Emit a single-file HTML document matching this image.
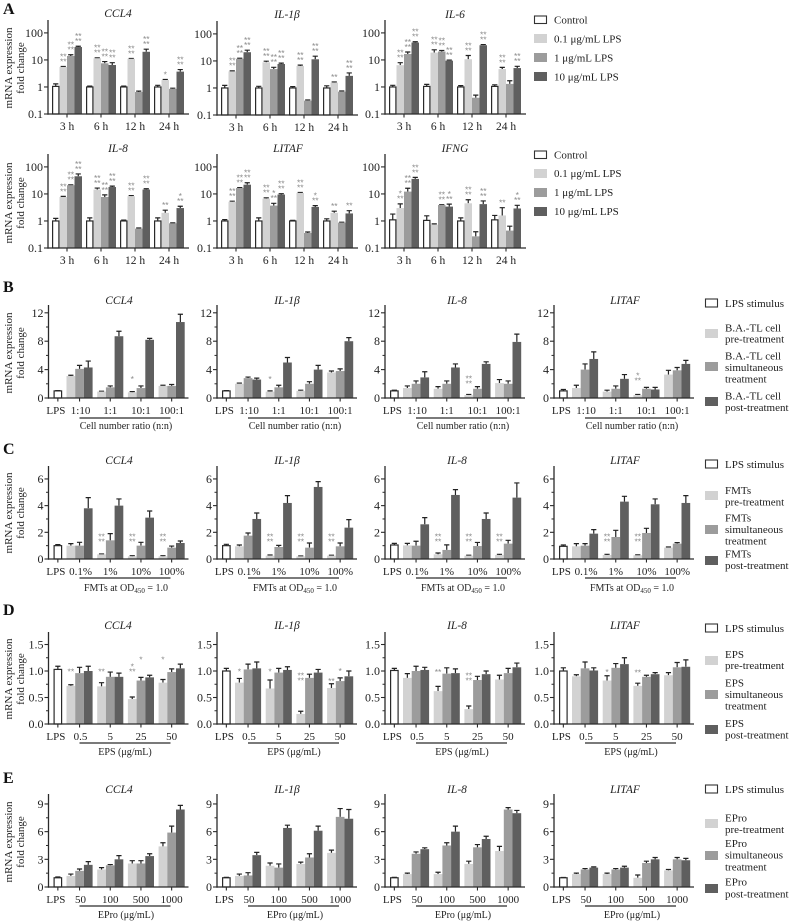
<!DOCTYPE html>
<html lang="en">
<head>
<meta charset="utf-8">
<title>mRNA expression fold change panels</title>
<style>
html,body{margin:0;padding:0;background:#fff;width:791px;height:924px;overflow:hidden}
svg{display:block}
text{font-family:"Liberation Serif",serif;fill:#222}
.t{font-size:11.5px;font-style:italic;text-anchor:middle}
.l{font-size:11px}
.p{font-size:16px;font-weight:bold;fill:#111}
.xt{font-size:10px;text-anchor:middle}
.yt{font-size:11px;text-anchor:middle}
</style>
</head>
<body>
<svg id="figure" width="791" height="924" viewBox="0 0 791 924" xmlns="http://www.w3.org/2000/svg">
<rect x="0" y="0" width="791" height="924" fill="#fff"/>

<text class="p" x="3" y="14">A</text>
<text class="p" x="3" y="292">B</text>
<text class="p" x="3" y="454">C</text>
<text class="p" x="3" y="615">D</text>
<text class="p" x="3" y="783">E</text>

<text class="t" x="118" y="17">CCL4</text>
<text class="t" x="287" y="18">IL-1β</text>
<text class="t" x="455" y="18">IL-6</text>
<text class="t" x="118" y="152">IL-8</text>
<text class="t" x="288" y="152">LITAF</text>
<text class="t" x="455" y="152">IFNG</text>

<text class="t" x="119" y="304">CCL4</text>
<text class="t" x="287" y="304">IL-1β</text>
<text class="t" x="457" y="304">IL-8</text>
<text class="t" x="625" y="304">LITAF</text>

<text class="t" x="119" y="464">CCL4</text>
<text class="t" x="287" y="464">IL-1β</text>
<text class="t" x="457" y="464">IL-8</text>
<text class="t" x="625" y="464">LITAF</text>

<text class="t" x="118" y="629">CCL4</text>
<text class="t" x="287" y="629">IL-1β</text>
<text class="t" x="457" y="629">IL-8</text>
<text class="t" x="625" y="629">LITAF</text>

<text class="t" x="119" y="793">CCL4</text>
<text class="t" x="287" y="793">IL-1β</text>
<text class="t" x="457" y="793">IL-8</text>
<text class="t" x="625" y="793">LITAF</text>

<g>
<text class="yt" transform="translate(12,68) rotate(-90)">mRNA expression</text>
<text class="yt" transform="translate(24,68) rotate(-90)">fold change</text>
</g>
<g>
<text class="yt" transform="translate(12,203) rotate(-90)">mRNA expression</text>
<text class="yt" transform="translate(24,203) rotate(-90)">fold change</text>
</g>
<g>
<text class="yt" transform="translate(12,353) rotate(-90)">mRNA expression</text>
<text class="yt" transform="translate(24,353) rotate(-90)">fold change</text>
</g>
<g>
<text class="yt" transform="translate(12,513) rotate(-90)">mRNA expression</text>
<text class="yt" transform="translate(24,513) rotate(-90)">fold change</text>
</g>
<g>
<text class="yt" transform="translate(12,679) rotate(-90)">mRNA expression</text>
<text class="yt" transform="translate(24,679) rotate(-90)">fold change</text>
</g>
<g>
<text class="yt" transform="translate(12,842) rotate(-90)">mRNA expression</text>
<text class="yt" transform="translate(24,842) rotate(-90)">fold change</text>
</g>

<text class="xt" x="126" y="429">Cell number ratio (n:n)</text>
<text class="xt" x="295" y="429">Cell number ratio (n:n)</text>
<text class="xt" x="463" y="429">Cell number ratio (n:n)</text>
<text class="xt" x="632" y="429">Cell number ratio (n:n)</text>

<text class="xt" x="126" y="591">FMTs at OD<tspan dy="2" font-size="7">450</tspan><tspan dy="-2"> = 1.0</tspan></text>
<text class="xt" x="295" y="591">FMTs at OD<tspan dy="2" font-size="7">450</tspan><tspan dy="-2"> = 1.0</tspan></text>
<text class="xt" x="463" y="591">FMTs at OD<tspan dy="2" font-size="7">450</tspan><tspan dy="-2"> = 1.0</tspan></text>
<text class="xt" x="632" y="591">FMTs at OD<tspan dy="2" font-size="7">450</tspan><tspan dy="-2"> = 1.0</tspan></text>

<text class="xt" x="125" y="755">EPS (μg/mL)</text>
<text class="xt" x="294" y="755">EPS (μg/mL)</text>
<text class="xt" x="462" y="755">EPS (μg/mL)</text>
<text class="xt" x="631" y="755">EPS (μg/mL)</text>

<text class="xt" x="126" y="918">EPro (μg/mL)</text>
<text class="xt" x="295" y="918">EPro (μg/mL)</text>
<text class="xt" x="463" y="918">EPro (μg/mL)</text>
<text class="xt" x="632" y="918">EPro (μg/mL)</text>

<g>
<rect x="534.5" y="16" width="12" height="7.5" fill="#fff" stroke="#333" stroke-width="1.1"/><text class="l" x="554" y="23.5">Control</text>
<rect x="534" y="34" width="13" height="9" fill="#d2d2d2"/><text class="l" x="554" y="42.5">0.1 μg/mL LPS</text>
<rect x="534" y="53" width="13" height="9" fill="#9c9c9c"/><text class="l" x="554" y="61.5">1 μg/mL LPS</text>
<rect x="534" y="72" width="13" height="9" fill="#5f5f5f"/><text class="l" x="554" y="80.5">10 μg/mL LPS</text>
</g>
<g>
<rect x="534.5" y="151" width="12" height="7.5" fill="#fff" stroke="#333" stroke-width="1.1"/><text class="l" x="554" y="158.5">Control</text>
<rect x="534" y="169" width="13" height="9" fill="#d2d2d2"/><text class="l" x="554" y="177">0.1 μg/mL LPS</text>
<rect x="534" y="188" width="13" height="9" fill="#9c9c9c"/><text class="l" x="554" y="196">1 μg/mL LPS</text>
<rect x="534" y="207" width="13" height="9" fill="#5f5f5f"/><text class="l" x="554" y="215">10 μg/mL LPS</text>
</g>
<g>
<rect x="705.5" y="299" width="12" height="8" fill="#fff" stroke="#333" stroke-width="1.1"/><text class="l" x="725" y="307">LPS stimulus</text>
<rect x="705" y="329" width="13" height="9" fill="#d2d2d2"/><text class="l" x="725" y="331.5">B.A.-TL cell</text><text class="l" x="725" y="342.5">pre-treatment</text>
<rect x="705" y="362" width="13" height="9" fill="#9c9c9c"/><text class="l" x="725" y="359.5">B.A.-TL cell</text><text class="l" x="725" y="371">simultaneous</text><text class="l" x="725" y="382.5">treatment</text>
<rect x="705" y="397" width="13" height="9" fill="#5f5f5f"/><text class="l" x="725" y="399.5">B.A.-TL cell</text><text class="l" x="725" y="411">post-treatment</text>
</g>
<g>
<rect x="705.5" y="460" width="12" height="8" fill="#fff" stroke="#333" stroke-width="1.1"/><text class="l" x="725" y="468">LPS stimulus</text>
<rect x="705" y="491" width="13" height="9" fill="#d2d2d2"/><text class="l" x="725" y="494">FMTs</text><text class="l" x="725" y="505.5">pre-treatment</text>
<rect x="705" y="525" width="13" height="9" fill="#9c9c9c"/><text class="l" x="725" y="521.5">FMTs</text><text class="l" x="725" y="533">simultaneous</text><text class="l" x="725" y="544.5">treatment</text>
<rect x="705" y="556" width="13" height="9" fill="#5f5f5f"/><text class="l" x="725" y="557.5">FMTs</text><text class="l" x="725" y="569">post-treatment</text>
</g>
<g>
<rect x="705.5" y="624" width="12" height="8" fill="#fff" stroke="#333" stroke-width="1.1"/><text class="l" x="725" y="632">LPS stimulus</text>
<rect x="705" y="656" width="13" height="9" fill="#d2d2d2"/><text class="l" x="725" y="658">EPS</text><text class="l" x="725" y="669">pre-treatment</text>
<rect x="705" y="690" width="13" height="9" fill="#9c9c9c"/><text class="l" x="725" y="686.5">EPS</text><text class="l" x="725" y="698">simultaneous</text><text class="l" x="725" y="709.5">treatment</text>
<rect x="705" y="725" width="13" height="9" fill="#5f5f5f"/><text class="l" x="725" y="727">EPS</text><text class="l" x="725" y="738.5">post-treatment</text>
</g>
<g>
<rect x="705.5" y="785" width="12" height="8" fill="#fff" stroke="#333" stroke-width="1.1"/><text class="l" x="725" y="793">LPS stimulus</text>
<rect x="705" y="819" width="13" height="9" fill="#d2d2d2"/><text class="l" x="725" y="821.5">EPro</text><text class="l" x="725" y="833">pre-treatment</text>
<rect x="705" y="851" width="13" height="9" fill="#9c9c9c"/><text class="l" x="725" y="847">EPro</text><text class="l" x="725" y="858.5">simultaneous</text><text class="l" x="725" y="870.5">treatment</text>
<rect x="705" y="884" width="13" height="9" fill="#5f5f5f"/><text class="l" x="725" y="885.5">EPro</text><text class="l" x="725" y="897.5">post-treatment</text>
</g>
</svg>

<script>
/* ---------- labels ---------- */
const timeLabels = ['3 h', '6 h', '12 h', '24 h'];
const ratioLabels = ['LPS', '1:10', '1:1', '10:1', '100:1'];
const fmtLabels = ['LPS', '0.1%', '1%', '10%', '100%'];
const epsLabels = ['LPS', '0.5', '5', '25', '50'];
const eproLabels = ['LPS', '50', '100', '500', '1000'];
const logTicks = [0.1, 1, 10, 100];
const logTickLabels = ['0.1', '1', '10', '100'];
const bTicks = [0, 4, 8, 12];
const bTickLabels = ['0', '4', '8', '12'];
const bMinor = [2, 6, 10];
const cTicks = [0, 2, 4, 6];
const cTickLabels = ['0', '2', '4', '6'];
const cMinor = [1, 3, 5];
const dTicks = [0, 0.5, 1, 1.5];
const dTickLabels = ['0.0', '0.5', '1.0', '1.5'];
const dMinor = [0.25, 0.75, 1.25];
const eTicks = [0, 3, 6, 9];
const eTickLabels = ['0', '3', '6', '9'];
const eMinor = [1.5, 4.5, 7.5];

/* ---------- panel A values (groups: time; series: control, 0.1, 1, 10 ug/mL) ---------- */
const aCcl4 = [[1.05, 5.5, 14, 30], [1, 11.5, 7.5, 6.5], [1, 11, 0.65, 20], [1, 1.8, 0.85, 3.7]];
const aCcl4Err = [[0.25, 0.2, 1.5, 2], [0.08, 0.5, 1.2, 1.4], [0.08, 0.3, 0.05, 5], [0.15, 0.1, 0.05, 0.7]];
const aCcl4Stars = [[0, 4, 4, 4], [0, 4, 4, 4], [0, 4, 0, 4], [0, 1, 0, 4]];
const aIl1b = [[1, 4.1, 12, 21], [1, 8.9, 5, 7.7], [1, 6.5, 0.34, 11.5], [1, 1.57, 0.73, 2.8]];
const aIl1bErr = [[0.25, 0.2, 0.6, 4], [0.15, 0.9, 0.8, 0.6], [0.12, 0.5, 0.02, 3.5], [0.2, 0.1, 0.04, 0.8]];
const aIl1bStars = [[0, 4, 4, 4], [0, 4, 4, 4], [0, 4, 0, 4], [0, 2, 0, 4]];
const aIl6 = [[1, 6.4, 16.6, 44], [1.05, 18.7, 20.4, 9.4], [1, 10.6, 0.4, 35], [1.05, 4.6, 1.3, 5]];
const aIl6Err = [[0.15, 1.5, 3, 3], [0.2, 5, 2, 0.5], [0.12, 4, 0.1, 2], [0.15, 0.7, 0.4, 0.8]];
const aIl6Stars = [[0, 4, 4, 4], [0, 4, 4, 4], [0, 4, 0, 4], [0, 4, 0, 4]];
const aIl8 = [[1, 7.7, 21, 45], [1, 14.5, 7.7, 18], [1, 8.2, 0.52, 14.5], [1, 2, 0.82, 3]];
const aIl8Err = [[0.25, 0.4, 0.7, 10], [0.3, 2, 1.5, 1.5], [0.08, 0.5, 0.03, 1], [0.3, 0.5, 0.03, 0.5]];
const aIl8Stars = [[0, 4, 4, 4], [0, 4, 4, 4], [0, 4, 0, 4], [0, 2, 0, 3]];
const aLitaf = [[1, 5.1, 16.6, 22], [1, 6.7, 3.7, 9.5], [1, 10.9, 0.36, 3.3], [1, 2, 0.87, 1.9]];
const aLitafErr = [[0.12, 0.3, 0.5, 4], [0.3, 0.5, 0.8, 0.7], [0.05, 0.4, 0.03, 0.4], [0.2, 0.3, 0.03, 0.5]];
const aLitafStars = [[0, 4, 4, 4], [0, 4, 3, 4], [0, 4, 0, 3], [0, 2, 0, 2]];
const aIfng = [[1.1, 3, 12.2, 36], [1.05, 0.73, 3.9, 3.4], [1, 4.5, 0.27, 4.2], [1.1, 1.6, 0.44, 2.9]];
const aIfngErr = [[0.7, 1.3, 4, 5], [0.5, 0.05, 0.1, 0.8], [0.3, 1.6, 0.13, 1.3], [0.5, 1.5, 0.2, 0.9]];
const aIfngStars = [[0, 3, 4, 4], [0, 0, 4, 3], [0, 4, 0, 4], [0, 2, 0, 3]];

/* ---------- panel B values (first group: LPS; then pre, simultaneous, post) ---------- */
const bCcl4 = [[1], [3.1, 4.1, 4.3], [0.9, 1.5, 8.7], [0.8, 1.4, 8.2], [1.7, 1.7, 10.7]];
const bCcl4Err = [[0.05], [0.1, 0.5, 0.9], [0.05, 0.2, 0.7], [0.1, 0.3, 0.2], [0.1, 0.2, 1.1]];
const bIl1b = [[1], [2, 2.8, 2.6], [0.9, 1.5, 5], [1, 2, 4], [3.6, 3.8, 8]];
const bIl1bErr = [[0.05], [0.1, 0.15, 0.2], [0.1, 0.3, 0.7], [0.1, 0.3, 0.6], [0.2, 0.3, 0.5]];
const bIl8 = [[1], [1.4, 2, 2.9], [1.3, 2, 4.3], [0.4, 1.3, 4.8], [2.1, 2, 7.9]];
const bIl8Err = [[0.1], [0.3, 0.4, 0.8], [0.3, 0.4, 0.5], [0.1, 0.3, 0.3], [0.5, 0.4, 1.1]];
const bLitaf = [[1], [1.4, 4, 5.5], [0.9, 1.3, 2.7], [0.4, 1.3, 1.2], [3.3, 3.9, 4.8]];
const bLitafErr = [[0.2], [0.4, 0.8, 1], [0.2, 0.4, 0.6], [0.1, 0.2, 0.3], [0.6, 0.4, 0.5]];
const bCcl4Stars = [[3, 0, 1, 3]];
const bIl1bStars = [[2, 0, 1, 3]];
const bIl8Stars = [[3, 0, 4, 2.4]];
const bLitafStars = [[3, 0, 3, 2.8]];

/* ---------- panel C values ---------- */
const cCcl4 = [[1], [1, 1, 3.8], [0.35, 1.4, 4], [0.2, 1, 3.1], [0.2, 0.85, 1.2]];
const cCcl4Err = [[0.08], [0.15, 0.25, 0.8], [0.03, 0.5, 0.5], [0.05, 0.25, 0.5], [0.05, 0.12, 0.15]];
const cIl1b = [[1], [0.95, 1.75, 3], [0.25, 0.9, 4.2], [0.2, 0.85, 5.4], [0.25, 0.95, 2.35]];
const cIl1bErr = [[0.1], [0.1, 0.2, 0.45], [0.05, 0.12, 0.55], [0.03, 0.35, 0.4], [0.03, 0.25, 0.6]];
const cIl8 = [[1.05], [1.02, 1, 2.6], [0.35, 0.68, 4.8], [0.25, 0.97, 3], [0.3, 1.15, 4.6]];
const cIl8Err = [[0.12], [0.15, 0.33, 0.5], [0.1, 0.38, 0.4], [0.03, 0.27, 0.45], [0.05, 0.25, 1.1]];
const cLitaf = [[0.95], [0.95, 1, 1.9], [0.3, 1.65, 4.3], [0.28, 1.95, 4.1], [0.85, 1.15, 4.2]];
const cLitafErr = [[0.1], [0.2, 0.15, 0.3], [0.05, 0.5, 0.4], [0.03, 0.35, 0.4], [0.05, 0.08, 0.55]];
const cCcl4Stars = [[2, 0, 4, 1.5], [3, 0, 4, 1.5], [4, 0, 4, 1.5]];
const cIl1bStars = [[2, 0, 4, 1.5], [3, 0, 4, 1.5], [4, 0, 4, 1.5]];
const cIl8Stars = [[2, 0, 4, 1.5], [3, 0, 4, 1.5], [4, 0, 4, 1.5]];
const cLitafStars = [[2, 0, 4, 1.5], [3, 0, 4, 1.5]];

/* ---------- panel D values ---------- */
const dCcl4 = [[1.03], [0.72, 0.96, 1], [0.71, 0.89, 0.89], [0.47, 0.82, 0.88], [0.78, 0.98, 1.05]];
const dCcl4Err = [[0.06], [0.02, 0.11, 0.09], [0.07, 0.09, 0.07], [0.04, 0.06, 0.04], [0.06, 0.06, 0.08]];
const dIl1b = [[1], [0.78, 1.03, 1.05], [0.67, 0.97, 1.02], [0.19, 0.87, 0.97], [0.68, 0.81, 0.9]];
const dIl1bErr = [[0.05], [0.08, 0.1, 0.12], [0.16, 0.08, 0.06], [0.05, 0.07, 0.06], [0.08, 0.06, 0.1]];
const dIl8 = [[1.01], [0.87, 1, 1.02], [0.62, 0.95, 0.96], [0.28, 0.83, 0.94], [0.84, 0.96, 1.07]];
const dIl8Err = [[0.04], [0.08, 0.09, 0.05], [0.09, 0.11, 0.08], [0.06, 0.07, 0.06], [0.08, 0.09, 0.08]];
const dLitaf = [[1], [0.9, 1.05, 1.01], [0.82, 1.06, 1.13], [0.72, 0.89, 0.94], [0.92, 1.07, 1.08]];
const dLitafErr = [[0.06], [0.03, 0.12, 0.05], [0.09, 0.08, 0.12], [0.05, 0.03, 0.03], [0.05, 0.09, 0.13]];
const dCcl4Stars = [[1, 0, 2, 1.04], [2, 0, 2, 1.04], [3, 0, 3, 1.04], [3, 1, 1, 1.26], [4, 0, 1, 1.26]];
const dIl1bStars = [[1, 0, 1, 1.04], [2, 0, 1, 1.04], [3, 0, 4, 0.87], [4, 0, 2, 0.86], [4, 1, 1, 1.05]];
const dIl8Stars = [[2, 0, 2, 1.03], [3, 0, 4, 0.87]];
const dLitafStars = [[2, 0, 1, 1.03], [3, 0, 2, 1.02]];

/* ---------- panel E values ---------- */
const eCcl4 = [[1], [1.2, 1.75, 2.4], [1.9, 2.35, 3], [2.55, 2.55, 3.35], [4.4, 5.9, 8.4]];
const eCcl4Err = [[0.08], [0.2, 0.2, 0.35], [0.2, 0.08, 0.4], [0.3, 0.3, 0.25], [0.4, 0.7, 0.45]];
const eIl1b = [[1], [1.2, 1.25, 3.45], [2.3, 2.1, 6.4], [2.5, 3.2, 6.1], [3.7, 7.6, 7.4]];
const eIl1bErr = [[0.05], [0.2, 0.3, 0.3], [0.3, 0.4, 0.3], [0.2, 0.4, 0.5], [0.3, 0.9, 1]];
const eIl8 = [[1], [1.4, 3.6, 4.1], [1.4, 4.5, 6], [2.5, 4.3, 5.2], [3.9, 8.4, 8]];
const eIl8Err = [[0.05], [0.1, 0.2, 0.15], [0.2, 0.3, 0.6], [0.3, 0.3, 0.3], [0.5, 0.2, 0.3]];
const eLitaf = [[1], [1.4, 1.9, 2.1], [1.4, 1.9, 2.1], [1, 2.6, 3], [1.8, 3, 2.9]];
const eLitafErr = [[0.03], [0.1, 0.1, 0.08], [0.1, 0.1, 0.15], [0.3, 0.2, 0.2], [0.1, 0.2, 0.2]];

/* ---------- drawing ---------- */
const NS = 'http://www.w3.org/2000/svg';
const svgRoot = document.getElementById('figure');
const fillsFour = ['#ffffff', '#d2d2d2', '#9c9c9c', '#5f5f5f'];
const fillsThree = ['#d2d2d2', '#9c9c9c', '#5f5f5f'];
const INK = '#2a2a2a';

function node(parent, tag, attrs) {
  const el = document.createElementNS(NS, tag);
  for (const k in attrs) el.setAttribute(k, attrs[k]);
  parent.appendChild(el);
  return el;
}
function linearY(bottom, top, max) {
  return v => bottom - (v / max) * (bottom - top);
}
function logY(bottom, top, min, max) {
  const span = Math.log10(max) - Math.log10(min);
  return v => bottom - (Math.log10(v) - Math.log10(min)) / span * (bottom - top);
}
function drawStars(g, x, y, count, name) {
  const rows = count === 4 ? ['**', '**'] : count === 3 ? ['**', '*'] : count === 2 ? ['**'] : ['*'];
  rows.forEach((r, i) => {
    const el = node(g, 'text', {
      x: x, y: y + 5.4 - i * 5, 'text-anchor': 'middle',
      style: 'font-family:"Liberation Sans",sans-serif;font-size:8.5px;fill:#8a8a8a'
    });
    el.textContent = r;
    
    
  });
}
function drawAxes(g, c, y) {
  const yAxis = node(g, 'line', { x1: c.x, x2: c.x, y1: c.top, y2: c.bottom + 0.7, stroke: INK, 'stroke-width': 1.3 });
  
  
  const xAxis = node(g, 'line', { x1: c.x - 0.6, x2: c.x + c.width, y1: c.bottom, y2: c.bottom, stroke: INK, 'stroke-width': 1.3 });
  
  
  c.ticks.forEach((t, i) => {
    const py = y(t);
    const tick = node(g, 'line', { x1: c.x - 4, x2: c.x, y1: py, y2: py, stroke: INK, 'stroke-width': 1.1 });
    
    
    const lab = node(g, 'text', { x: c.x - 5, y: py + 4, 'text-anchor': 'end', 'font-size': 12 });
    lab.textContent = c.tickLabels[i];
    
    
  });
  (c.minor || []).forEach(t => {
    const py = y(t);
    const tick = node(g, 'line', { x1: c.x - 2.5, x2: c.x, y1: py, y2: py, stroke: INK, 'stroke-width': 1 });
    
    
  });
}
function drawBar(g, x, w, v, e, base, y, fill, isOutline, name) {
  const top = y(v), errTop = y(v + e), cx = x + w / 2;
  const whisker = node(g, 'path', {
    d: 'M' + cx + ' ' + top + 'V' + errTop + 'M' + (cx - 2.6) + ' ' + errTop + 'H' + (cx + 2.6),
    stroke: '#222', 'stroke-width': 1.2, fill: 'none'
  });
  
  
  const inset = isOutline ? 0.6 : 0;
  const bar = node(g, 'rect', {
    x: x + inset, y: top, width: w - inset * 2, height: Math.max(0, y(base) - top), fill: fill,
    stroke: isOutline ? '#2a2a2a' : 'none', 'stroke-width': isOutline ? 1.2 : 0
  });
  
  
  return errTop;
}
function drawLogChart(c) {
  const g = node(svgRoot, 'g', {});
  
  
  const y = logY(c.bottom, c.top, 0.1, 300);
  c.ticks = logTicks; c.tickLabels = logTickLabels; c.width = 141;
  const barW = 7.5, pitch = 34;
  c.values.forEach((grp, i) => {
    const gx = c.x + 4 + i * pitch;
    grp.forEach((v, s) => {
      const bx = gx + s * barW;
      const errTop = drawBar(g, bx, barW, v, c.errs[i][s], 0.1, y, fillsFour[s], s === 0, c.id + '-bar-' + timeLabels[i].replace(' ', '') + '-s' + s);
      if (c.stars[i][s]) drawStars(g, bx + barW / 2, errTop - 7.5, c.stars[i][s], c.id + '-significance');
    });
    const cx = gx + barW * 2;
    const tick = node(g, 'line', { x1: cx, x2: cx, y1: c.bottom, y2: c.bottom + 3.5, stroke: INK, 'stroke-width': 1.1 });
    
    
    const lab = node(g, 'text', { x: cx, y: c.bottom + 16, 'text-anchor': 'middle', 'font-size': 11.5 });
    lab.textContent = timeLabels[i];
    
    
  });
  drawAxes(g, c, y);
}
function drawTreatChart(c) {
  const g = node(svgRoot, 'g', {});
  
  
  const y = linearY(c.bottom, c.top, c.max);
  c.width = 140;
  const barW = 8.7, pitch = 30.7;
  const positions = [];
  c.values.forEach((grp, i) => {
    const gx = i === 0 ? c.x + 5 : c.x + 18 + (i - 1) * pitch;
    grp.forEach((v, s) => {
      const bx = gx + s * barW;
      drawBar(g, bx, barW, v, c.errs[i][s], 0, y, i === 0 ? '#ffffff' : fillsThree[s], i === 0, c.id + '-bar-g' + i + '-s' + s);
    });
    const cx = gx + grp.length * barW / 2;
    positions.push(gx);
    const tick = node(g, 'line', { x1: cx, x2: cx, y1: c.bottom, y2: c.bottom + 3.5, stroke: INK, 'stroke-width': 1.1 });
    
    
    const lab = node(g, 'text', { x: i === 0 ? cx - 2 : cx + (i === 1 ? 1 : 0), y: c.bottom + 16, 'text-anchor': 'middle', 'font-size': 11 });
    lab.textContent = c.labels[i];
    
    
  });
  (c.stars || []).forEach(st => {
    drawStars(g, positions[st[0]] + st[1] * barW + barW / 2, y(st[3]), st[2], c.id + '-significance');
  });
  const under = node(g, 'line', { x1: c.x + 31, x2: c.x + 122, y1: c.bottom + c.under, y2: c.bottom + c.under, stroke: INK, 'stroke-width': 1.2 });
  
  
  drawAxes(g, c, y);
}

/* panel A charts */
drawLogChart({ id: 'a-ccl4', x: 48, bottom: 114, top: 20, values: aCcl4, errs: aCcl4Err, stars: aCcl4Stars });
drawLogChart({ id: 'a-il1b', x: 217, bottom: 115, top: 21, values: aIl1b, errs: aIl1bErr, stars: aIl1bStars });
drawLogChart({ id: 'a-il6', x: 385, bottom: 114, top: 20, values: aIl6, errs: aIl6Err, stars: aIl6Stars });
drawLogChart({ id: 'a-il8', x: 48, bottom: 248, top: 154, values: aIl8, errs: aIl8Err, stars: aIl8Stars });
drawLogChart({ id: 'a-litaf', x: 217, bottom: 248, top: 154, values: aLitaf, errs: aLitafErr, stars: aLitafStars });
drawLogChart({ id: 'a-ifng', x: 385, bottom: 248, top: 154, values: aIfng, errs: aIfngErr, stars: aIfngStars });

/* panels B-E charts */
const colX = [48.5, 217, 385, 554];
const bShared = { bottom: 398, top: 305, max: 13.1, ticks: bTicks, tickLabels: bTickLabels, minor: bMinor, labels: ratioLabels, under: 20 };
drawTreatChart(Object.assign({ id: 'b-ccl4', x: colX[0], values: bCcl4, errs: bCcl4Err, stars: bCcl4Stars }, bShared));
drawTreatChart(Object.assign({ id: 'b-il1b', x: colX[1], values: bIl1b, errs: bIl1bErr, stars: bIl1bStars }, bShared));
drawTreatChart(Object.assign({ id: 'b-il8', x: colX[2], values: bIl8, errs: bIl8Err, stars: bIl8Stars }, bShared));
drawTreatChart(Object.assign({ id: 'b-litaf', x: colX[3], values: bLitaf, errs: bLitafErr, stars: bLitafStars }, bShared));

const cShared = { bottom: 559, top: 466, max: 6.97, ticks: cTicks, tickLabels: cTickLabels, minor: cMinor, labels: fmtLabels, under: 19 };
drawTreatChart(Object.assign({ id: 'c-ccl4', x: colX[0], values: cCcl4, errs: cCcl4Err, stars: cCcl4Stars }, cShared));
drawTreatChart(Object.assign({ id: 'c-il1b', x: colX[1], values: cIl1b, errs: cIl1bErr, stars: cIl1bStars }, cShared));
drawTreatChart(Object.assign({ id: 'c-il8', x: colX[2], values: cIl8, errs: cIl8Err, stars: cIl8Stars }, cShared));
drawTreatChart(Object.assign({ id: 'c-litaf', x: colX[3], values: cLitaf, errs: cLitafErr, stars: cLitafStars }, cShared));

const dShared = { bottom: 724, top: 632, max: 1.736, ticks: dTicks, tickLabels: dTickLabels, minor: dMinor, labels: epsLabels, under: 19 };
drawTreatChart(Object.assign({ id: 'd-ccl4', x: colX[0], values: dCcl4, errs: dCcl4Err, stars: dCcl4Stars }, dShared));
drawTreatChart(Object.assign({ id: 'd-il1b', x: colX[1], values: dIl1b, errs: dIl1bErr, stars: dIl1bStars }, dShared));
drawTreatChart(Object.assign({ id: 'd-il8', x: colX[2], values: dIl8, errs: dIl8Err, stars: dIl8Stars }, dShared));
drawTreatChart(Object.assign({ id: 'd-litaf', x: colX[3], values: dLitaf, errs: dLitafErr, stars: dLitafStars }, dShared));

const eShared = { bottom: 887, top: 794, max: 10.08, ticks: eTicks, tickLabels: eTickLabels, minor: eMinor, labels: eproLabels, under: 19 };
drawTreatChart(Object.assign({ id: 'e-ccl4', x: colX[0], values: eCcl4, errs: eCcl4Err, stars: [] }, eShared));
drawTreatChart(Object.assign({ id: 'e-il1b', x: colX[1], values: eIl1b, errs: eIl1bErr, stars: [] }, eShared));
drawTreatChart(Object.assign({ id: 'e-il8', x: colX[2], values: eIl8, errs: eIl8Err, stars: [] }, eShared));
drawTreatChart(Object.assign({ id: 'e-litaf', x: colX[3], values: eLitaf, errs: eLitafErr, stars: [] }, eShared));
</script>
</body>
</html>
